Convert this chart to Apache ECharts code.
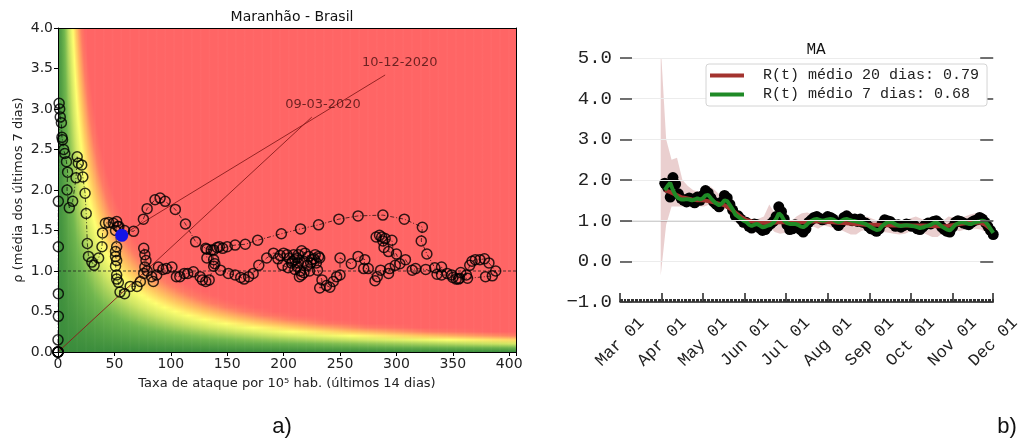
<!DOCTYPE html>
<html><head><meta charset="utf-8">
<script src="https://cdn.jsdelivr.net/npm/echarts@6/dist/echarts.min.js"></script>
<style>html,body{margin:0;padding:0;background:#fff}#c{width:1023px;height:443px}</style>
</head><body><div id="c"></div>
<script>
// ---------- Left panel: risk diagram (Maranhão) ----------
const riskPath = [
[0,0],[0,0],[0,0],[0,0],[0,0],[0,0.15],[0.3,0.44],[0.3,0.72],[0.3,1.3],[0.3,1.86],
[1,3.07],[1.5,3.0],[2,2.9],[3,2.83],[3.5,2.65],[4,2.62],[5,2.5],[6,2.45],[7.5,2.35],[8.5,2.22],
[8,2.0],[10,1.78],[13,1.86],[16,2.15],[17,2.41],[18,2.33],[21,2.31],[22,2.16],[24,1.96],[25,1.71],
[26,1.34],[27,1.18],[30,1.11],[32,1.07],[36,1.16],[39,1.3],[39.5,1.47],[42,1.59],[45,1.6],[49,1.59],
[52,1.61],[54,1.55],[59,1.5],[67,1.49],[75.7,1.64],[79,1.77],[86,1.88],[90.5,1.9],[95,1.86],[104,1.76],
[113,1.58],[122,1.36],[132,1.27],[138,1.26],[141,1.29],[143,1.3],[146,1.28],[150,1.3],[157,1.32],[166,1.33],
[177,1.38],[198,1.46],[215,1.52],[231,1.57],[249,1.64],[266,1.68],[288,1.69],[307,1.64],[323,1.54],[322,1.37],
[327,1.21],[334,1.04],[336,0.96],[340,1.05],[345,0.97],[350,0.92],[353,0.9],[356,0.91],[357,0.98],[362,0.95],
[365,1.07],[367,1.12],[370,1.14],[374,1.14],[378,1.15],[382,1.1],[388,1.0],[385,0.94],[379,0.93],[363,0.91],
[355,0.9],[349,0.95],[340,0.95],[326,1.02],[317,1.03],[314,1.01],[308,1.14],[303,1.09],[300,1.21],[293,1.24],
[289,1.29],[288,1.37],[285,1.44],[282,1.42],[287,1.42],[290,1.4],[296,1.38],[299,1.07],[294,1.03],[293,0.97],
[286,1.01],[283,0.93],[281,0.88],[275,1.03],[271,1.03],[272,1.14],[266,1.18],[260,1.09],[250,1.16],[250,0.95],
[247,0.93],[244,0.87],[241,0.8],[238,0.82],[232,0.79],[234,0.89],[230,1.01],[232,1.16],[228,1.2],[225,1.14],
[222,1.18],[219,1.22],[216,1.25],[213,1.2],[210,1.14],[212,1.06],[215,1.0],[216,0.95],[214,0.93],[210,1.02],
[207,1.1],[205,1.16],[203,1.2],[200,1.22],[197,1.19],[195,1.15],[199,1.07],[204,1.04],[208,1.12],[212,1.16],
[218,1.12],[221,1.07],[224,1.1],[227,1.15],[231,1.18],[229,1.1],[223,1.0],[218,0.98],[213,1.1],[209,1.2],
[191,1.22],[185,1.16],[178,1.07],[173,0.97],[169,0.93],[165,0.9],[162,0.92],[157,0.95],[151,0.97],[144,1.01],
[139,1.09],[132,1.16],[131,1.28],[136,1.26],[138,1.14],[138,1.06],[134,0.89],[131,0.87],[128,0.89],[126,0.93],
[120,0.99],[115,0.97],[112,0.97],[108,0.93],[105,0.93],[101,1.05],[96,1.03],[93,1.02],[89,1.05],[87.5,0.95],
[84.5,0.87],[83,0.93],[79,1.0],[78,1.13],[76,1.28],[77,1.2],[77,1.05],[76,0.97],[73,0.87],[70,0.81],
[64,0.81],[59,0.72],[55,0.74],[53.5,0.86],[52,0.9],[52,0.95],[51,1.06],[52,1.13],[51,1.18],[51,1.24],
[52,1.3],[51,1.5],[53,1.55],[56.5,1.44]
];
const lastPoint = [56.5, 1.44];
const annotationLabels = ['09-03-2020', '10-12-2020'];
const annotationPoints = [[0, 0], [56.5, 1.44]];
const annotationLineEnds = [[225, 2.9], [290, 3.42]];
const annotationTextAt = [[235, 3.06], [303, 3.57]];
const rhoReference = 1;
// risk background colour map (value = attack rate x rho)
const riskColorStops = [[0,[58,140,60]],[22,[112,182,78]],[40,[208,230,100]],[52,[255,255,112]],[64,[255,200,96]],[82,[255,122,100]],[96,[255,101,101]]];
const X_MAX = 406, Y_MAX = 4;

// ---------- Right panel: R(t) for MA ----------
const monthStarts = ['2020-03-01','2020-04-01','2020-05-01','2020-06-01','2020-07-01','2020-08-01','2020-09-01','2020-10-01','2020-11-01','2020-12-01'];
const monthLabels = ['Mar 01','Apr 01','May 01','Jun 01','Jul 01','Aug 01','Sep 01','Oct 01','Nov 01','Dec 01'];
const rtStart = '2020-04-03';   // every 2 days
const rtDaily = [
1.92,1.82,1.58,2.06,1.90,1.66,1.55,1.50,1.46,1.56,
1.48,1.44,1.58,1.50,1.62,1.74,1.68,1.56,1.46,1.40,
1.34,1.46,1.62,1.56,1.40,1.26,1.12,1.12,1.04,0.96,
0.96,0.86,0.82,0.92,0.90,0.82,0.76,0.78,0.86,0.92,
0.98,1.10,1.34,1.22,1.04,0.90,0.78,0.80,0.90,0.88,
0.78,0.72,0.80,0.96,1.02,1.08,1.10,1.06,1.02,1.04,
1.10,1.08,1.04,0.96,0.88,0.96,1.08,1.12,1.06,1.00,
1.04,0.98,1.04,0.96,0.94,0.86,0.80,0.78,0.74,0.80,
0.92,1.02,1.00,0.98,0.92,0.86,0.90,0.84,0.88,0.92,
0.90,0.86,0.88,0.80,0.78,0.84,0.90,0.94,0.92,0.98,
1.00,0.94,0.84,0.78,0.74,0.72,0.84,0.96,1.00,0.98,
0.94,0.92,0.90,0.96,1.00,1.02,1.08,1.04,0.96,0.86,
0.76,0.66];
const r7 = [
1.75,1.85,1.93,1.75,1.62,1.55,1.52,1.52,1.53,1.52,
1.50,1.52,1.55,1.52,1.55,1.62,1.63,1.55,1.48,1.42,
1.38,1.42,1.50,1.48,1.38,1.28,1.15,1.10,1.05,1.00,
0.97,0.90,0.87,0.90,0.92,0.88,0.84,0.85,0.88,0.90,
0.95,1.04,1.18,1.12,1.00,0.94,0.92,0.92,0.92,0.90,
0.86,0.84,0.88,0.95,0.99,1.03,1.04,1.02,1.00,1.01,
1.03,1.04,1.03,0.99,0.96,0.99,1.03,1.04,1.02,1.00,
0.99,0.97,0.96,0.94,0.92,0.88,0.84,0.80,0.77,0.78,
0.86,0.92,0.96,0.97,0.95,0.91,0.88,0.87,0.88,0.89,
0.88,0.87,0.86,0.84,0.82,0.83,0.86,0.88,0.90,0.94,
0.96,0.92,0.86,0.82,0.78,0.76,0.82,0.90,0.93,0.96,
0.96,0.94,0.92,0.92,0.95,0.97,0.98,1.00,0.98,0.90,
0.80,0.70];
const r20Start = '2020-04-03';  // every 4 days
const r20 = [1.75,1.70,1.64,1.58,1.55,1.52,1.50,1.50,1.48,1.45,1.42,1.38,1.30,1.20,1.10,1.02,0.98,0.96,0.95,0.94,
0.95,0.96,0.96,0.95,0.95,0.96,0.97,0.98,0.98,0.98,0.97,0.96,0.95,0.94,0.93,0.92,0.91,0.90,0.90,0.90,
0.89,0.89,0.88,0.88,0.88,0.88,0.88,0.88,0.88,0.87,0.86,0.86,0.87,0.89,0.91,0.93,0.94,0.95,0.95,0.90,0.80];
const bandStart = '2020-03-31';  // every 4 days
const bandUpper = [5.3,3.0,2.5,2.55,2.0,1.85,1.75,1.72,1.75,1.85,1.75,1.62,1.70,1.55,1.30,1.15,1.05,1.02,1.05,1.10,
1.40,1.18,1.05,1.00,0.98,1.10,1.18,1.20,1.15,1.12,1.18,1.15,1.12,1.10,1.05,1.00,0.95,1.05,1.10,1.05,
1.00,1.02,1.00,0.98,0.96,1.00,1.06,1.10,1.05,0.98,0.95,0.90,1.00,1.10,1.08,1.04,1.10,1.15,1.18,1.12,1.05,0.90];
const bandLower = [-0.35,0.9,1.35,1.35,1.35,1.35,1.32,1.35,1.35,1.40,1.28,1.22,1.30,1.15,0.95,0.82,0.78,0.75,0.72,0.78,
0.85,0.72,0.68,0.70,0.70,0.82,0.88,0.90,0.86,0.80,0.88,0.85,0.80,0.78,0.72,0.66,0.66,0.75,0.78,0.72,
0.72,0.72,0.70,0.68,0.66,0.68,0.74,0.78,0.72,0.66,0.60,0.60,0.70,0.78,0.78,0.74,0.78,0.80,0.80,0.78,0.70,0.55];
const legendNames = ['R(t) médio 20 dias: 0.79', 'R(t) médio 7 dias: 0.68'];
const rtReference = 1;

// ---------- helpers ----------
const T0 = Date.parse(monthStarts[0] + 'T00:00:00Z');
const toDay = s => Math.round((Date.parse(s + 'T00:00:00Z') - T0) / 864e5);   // days since Mar 01
const seriesFrom = (start, step, vals) => vals.map((v, i) => [toDay(start) + i * step, v]);
const monthDays = monthStarts.map(toDay);
const DAY_MAX = monthDays[monthDays.length - 1];
const dayTicks = [];
for (let d = 0; d <= DAY_MAX; d++) dayTicks.push(d);

function riskColor(v) {
  const s = riskColorStops;
  if (v <= s[0][0]) return 'rgb(' + s[0][1].join(',') + ')';
  for (let i = 1; i < s.length; i++) {
    if (v <= s[i][0]) {
      const f = (v - s[i-1][0]) / (s[i][0] - s[i-1][0]);
      const c = s[i-1][1].map((a, k) => Math.round(a + (s[i][1][k] - a) * f));
      return 'rgb(' + c.join(',') + ')';
    }
  }
  return 'rgb(' + s[s.length-1][1].join(',') + ')';
}
const bgColumns = [];
for (let x = 0; x < X_MAX; x++) bgColumns.push([x, 0]);
function renderBg(params, api) {
  const x0 = api.value(0);
  const p0 = api.coord([x0, Y_MAX]);
  const p1 = api.coord([x0 + 1, 0]);
  const xm = x0 + 0.5, N = 80, stops = [];
  for (let j = 0; j <= N; j++) {
    const t = j / N;
    stops.push({ offset: t, color: riskColor(xm * Y_MAX * (1 - t)) });
  }
  return { type: 'rect', shape: { x: p0[0], y: p0[1], width: p1[0] - p0[0] + 0.7, height: p1[1] - p0[1] },
    style: { fill: { type: 'linear', x: 0, y: 0, x2: 0, y2: 1, colorStops: stops } } };
}
// confidence band as one polygon through the axis scales
const bandData = bandUpper.map((u, i) => [toDay(bandStart) + i * 4, bandLower[i], u]);
function renderBand(params, api) {
  if (params.dataIndex !== 0) return null;
  const top = bandData.map(d => api.coord([d[0], d[2]]));
  const bot = bandData.map(d => api.coord([d[0], d[1]])).reverse();
  return { type: 'polygon', shape: { points: top.concat(bot) }, style: { fill: 'rgba(190,110,110,0.33)' } };
}

const sans = 'DejaVu Sans', mono = 'Liberation Mono';
const series = [];
series.push({ type: 'custom', xAxisIndex: 0, yAxisIndex: 0, data: bgColumns, renderItem: renderBg, clip: true, silent: true, z: 1, encode: { x: 0, y: 1 } });
series.push({ type: 'line', xAxisIndex: 0, yAxisIndex: 0, data: [[0, rhoReference], [X_MAX, rhoReference]], showSymbol: false, z: 2,
  lineStyle: { color: '#222', width: 0.8, type: [3, 2] } });
series.push({ type: 'line', xAxisIndex: 0, yAxisIndex: 0, data: riskPath, showSymbol: false, z: 3,
  lineStyle: { color: 'rgba(0,0,0,0.75)', width: 0.9, type: [4, 2, 1, 2] } });
annotationLabels.forEach((lab, i) => {
  series.push({ type: 'line', xAxisIndex: 0, yAxisIndex: 0, data: [annotationPoints[i], annotationLineEnds[i]], showSymbol: false, z: 3,
    lineStyle: { color: '#8a1c1c', width: 0.9 } });
  series.push({ type: 'scatter', xAxisIndex: 0, yAxisIndex: 0, data: [annotationTextAt[i]], symbolSize: 0, z: 4,
    label: { show: true, position: 'inside', formatter: lab, color: '#4a1010', fontFamily: sans, fontSize: 13 } });
});
series.push({ type: 'scatter', xAxisIndex: 0, yAxisIndex: 0, data: riskPath, symbolSize: 10, z: 4,
  itemStyle: { color: 'rgba(0,0,0,0)', borderColor: 'rgba(0,0,0,0.8)', borderWidth: 1.5, opacity: 1 } });
series.push({ type: 'scatter', xAxisIndex: 0, yAxisIndex: 0, data: [lastPoint], symbolSize: 13, z: 5, itemStyle: { color: '#1414e6', opacity: 1 } });

// right panel series
series.push({ type: 'custom', xAxisIndex: 2, yAxisIndex: 2, data: bandData, renderItem: renderBand, clip: true, silent: true, z: 2, encode: { x: 0, y: 2 } });
series.push({ type: 'line', xAxisIndex: 2, yAxisIndex: 2, data: [[0, rtReference], [DAY_MAX, rtReference]], showSymbol: false, z: 2,
  lineStyle: { color: '#444', width: 1.3 } });
series.push({ type: 'scatter', xAxisIndex: 2, yAxisIndex: 2, data: seriesFrom(rtStart, 2, rtDaily), symbolSize: 11, itemStyle: { color: '#000', opacity: 1 }, z: 3 });
series.push({ name: legendNames[0], type: 'line', xAxisIndex: 2, yAxisIndex: 2, data: seriesFrom(r20Start, 4, r20), showSymbol: false, z: 4,
  lineStyle: { color: '#a3332e', width: 4 }, itemStyle: { color: '#a3332e' } });
series.push({ name: legendNames[1], type: 'line', xAxisIndex: 2, yAxisIndex: 2, data: seriesFrom(rtStart, 2, r7), showSymbol: false, z: 5,
  lineStyle: { color: '#1f8a26', width: 4 }, itemStyle: { color: '#1f8a26' } });

const option = {
  animation: false,
  backgroundColor: '#fff',
  title: [
    { text: 'Maranhão - Brasil', left: 287, top: 5, textAlign: 'center', textStyle: { fontFamily: sans, fontSize: 14, fontWeight: 'normal', color: '#111' } },
    { text: 'MA', left: 811, top: 37, textAlign: 'center', textStyle: { fontFamily: mono, fontSize: 16, fontWeight: 'normal', color: '#111' } },
    { text: 'a)', left: 277, top: 411, textAlign: 'center', textStyle: { fontFamily: 'Liberation Sans', fontSize: 22, fontWeight: 'normal', color: '#111' } },
    { text: 'b)', left: 1002, top: 411, textAlign: 'center', textStyle: { fontFamily: 'Liberation Sans', fontSize: 22, fontWeight: 'normal', color: '#111' } }
  ],
  legend: { data: legendNames, orient: 'vertical', left: 706, top: 64, icon: 'rect', itemWidth: 34, itemHeight: 4, itemGap: 4, z: 20,
    backgroundColor: '#fff', borderColor: '#d4d4d4', borderWidth: 1, borderRadius: 3, padding: [4, 8, 4, 4],
    textStyle: { fontFamily: mono, fontSize: 15, color: '#222', padding: [0, 0, 0, 14] } },
  grid: [
    { left: 58, top: 28, width: 458, height: 324 },
    { left: 620, top: 58, width: 382, height: 244 }
  ],
  xAxis: [
    { gridIndex: 0, type: 'value', position: 'bottom', min: 0, max: X_MAX, interval: 50, z: 6,
      axisLine: { onZero: false, lineStyle: { color: '#000', width: 1 } }, axisTick: { length: 4, lineStyle: { color: '#000' } },
      axisLabel: { margin: 5, fontFamily: sans, fontSize: 14, color: '#222', formatter: v => (v % 50 === 0 ? String(v) : '') },
      splitLine: { show: false },
      name: 'Taxa de ataque por 10⁵ hab. (últimos 14 dias)', nameLocation: 'middle', nameGap: 25,
      nameTextStyle: { fontFamily: sans, fontSize: 13, color: '#222' } },
    { gridIndex: 0, type: 'value', position: 'top', min: 0, max: X_MAX, z: 6,
      axisLine: { onZero: false, lineStyle: { color: '#000', width: 1 } }, axisTick: { show: false }, axisLabel: { show: false }, splitLine: { show: false } },
    { gridIndex: 1, type: 'value', position: 'bottom', min: 0, max: DAY_MAX, z: 6,
      axisLine: { onZero: false, lineStyle: { color: '#222', width: 1.5 } },
      axisTick: { inside: true, length: 9, customValues: monthDays, lineStyle: { color: '#222', width: 1.5 } },
      axisLabel: { customValues: monthDays, rotate: 45, align: 'center', verticalAlign: 'middle', margin: 40,
        fontFamily: mono, fontSize: 17, color: '#222', formatter: v => monthLabels[monthDays.indexOf(v)] || '' },
      splitLine: { show: false } },
    { gridIndex: 1, type: 'value', position: 'bottom', offset: 0, min: 0, max: DAY_MAX, z: 6,
      axisLine: { show: false, onZero: false }, axisTick: { inside: true, length: 3, customValues: dayTicks, lineStyle: { color: '#333', width: 1 } },
      axisLabel: { show: false }, splitLine: { show: false } }
  ],
  yAxis: [
    { gridIndex: 0, type: 'value', min: 0, max: Y_MAX, interval: 0.5, z: 6,
      axisLine: { show: true, onZero: false, lineStyle: { color: '#000', width: 1 } }, axisTick: { show: true, length: 4, lineStyle: { color: '#000' } },
      axisLabel: { margin: 5, fontFamily: sans, fontSize: 14, color: '#222', formatter: v => v.toFixed(1) },
      splitLine: { show: false },
      name: 'ρ (média dos últimos 7 dias)', nameLocation: 'middle', nameGap: 33,
      nameTextStyle: { fontFamily: sans, fontSize: 13, color: '#222' } },
    { gridIndex: 0, type: 'value', position: 'right', min: 0, max: Y_MAX, z: 6,
      axisLine: { show: true, onZero: false, lineStyle: { color: '#000', width: 1 } }, axisTick: { show: false }, axisLabel: { show: false }, splitLine: { show: false } },
    { gridIndex: 1, type: 'value', min: -1, max: 5, interval: 1, z: 6,
      axisLine: { show: false, onZero: false }, axisTick: { show: true, inside: true, length: 12, lineStyle: { color: '#444', width: 1.5 } },
      axisLabel: { margin: 8, fontFamily: mono, fontSize: 19, color: '#222', formatter: v => v.toFixed(1).replace('-', '\u2212') },
      splitLine: { show: true, lineStyle: { color: '#ececec', width: 1 } } },
    { gridIndex: 1, type: 'value', position: 'right', min: -1, max: 5, interval: 1, z: 6,
      axisLine: { show: false, onZero: false }, axisTick: { show: true, inside: true, length: 13, lineStyle: { color: '#444', width: 1.5 } },
      axisLabel: { show: false }, splitLine: { show: false } }
  ],
  series: series
};
const chart = echarts.init(document.getElementById('c'), null, { renderer: 'canvas' });
chart.setOption(option);
</script>
</body></html>
